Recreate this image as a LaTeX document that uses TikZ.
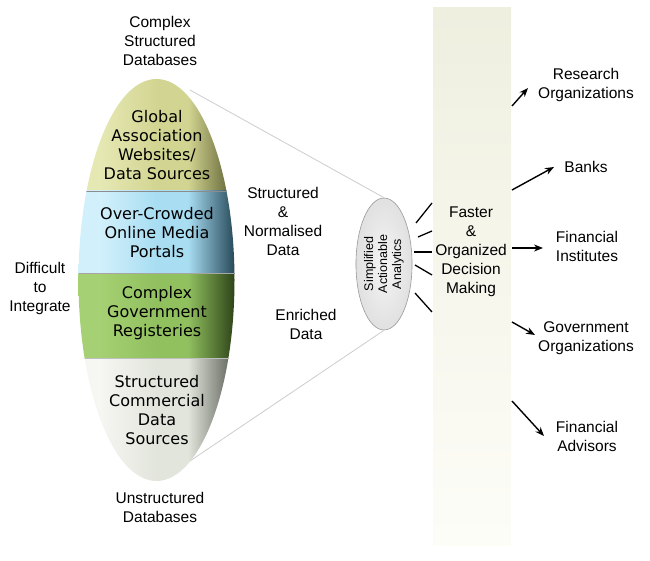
\documentclass[tikz,border=0pt]{standalone}
\usepackage{fontspec}
\setmainfont{Liberation Sans}
\newfontfamily\bandfont{DejaVu Sans}
\usetikzlibrary{arrows.meta,shapes.geometric}
\definecolor{yelL}{RGB}{230,232,180}
\definecolor{yelM}{RGB}{210,213,145}
\definecolor{yelD}{RGB}{90,92,48}
\definecolor{bluL}{RGB}{210,240,251}
\definecolor{bluM}{RGB}{168,221,242}
\definecolor{bluD}{RGB}{38,72,88}
\definecolor{grnL}{RGB}{165,208,115}
\definecolor{grnM}{RGB}{145,192,95}
\definecolor{grnD}{RGB}{45,66,25}
\definecolor{whtL}{RGB}{246,246,242}
\definecolor{whtM}{RGB}{226,229,220}
\definecolor{whtD}{RGB}{88,94,84}
\definecolor{barTop}{RGB}{239,239,224}
\definecolor{barBot}{RGB}{253,253,248}
\pgfdeclarehorizontalshading{yelshade}{100bp}{color(0bp)=(yelL); color(32bp)=(yelL); color(50bp)=(yelM); color(60bp)=(yelM); color(75bp)=(yelD); color(100bp)=(yelD)}
\pgfdeclarehorizontalshading{blushade}{100bp}{color(0bp)=(bluL); color(32bp)=(bluL); color(50bp)=(bluM); color(60bp)=(bluM); color(75bp)=(bluD); color(100bp)=(bluD)}
\pgfdeclarehorizontalshading{grnshade}{100bp}{color(0bp)=(grnL); color(32bp)=(grnL); color(50bp)=(grnM); color(60bp)=(grnM); color(75bp)=(grnD); color(100bp)=(grnD)}
\pgfdeclarehorizontalshading{whtshade}{100bp}{color(0bp)=(whtL); color(32bp)=(whtL); color(50bp)=(whtM); color(60bp)=(whtM); color(75bp)=(whtD); color(100bp)=(whtD)}
\tikzset{
  lbl/.style={align=center, inner sep=0pt, font=\fontsize{15.5}{19}\selectfont},
  bandlbl/.style={align=center, inner sep=0pt, font=\bandfont\fontsize{16}{19}\selectfont},
  conel/.style={draw=black!20, line width=0.8pt},
  tick/.style={line width=1.3pt},
  arr/.style={line width=1.4pt, -{Stealth[length=9pt,width=7pt]}}
}
\begin{document}
\begin{tikzpicture}[x=1pt,y=-1pt]
\useasboundingbox (0,0) rectangle (650,561);
% decision bar
\shade[top color=barTop, bottom color=barBot] (433,8) rectangle (511,545);
% cone
\node[ellipse, draw=black!40, line width=0.6pt, inner color=black!4, outer color=black!12, minimum width=132pt, minimum height=47pt, rotate=90, align=center, inner sep=0pt, font=\fontsize{12.5}{14}\selectfont] (ana) at (384,264) {Simplified\\Actionable\\Analytics};
\coordinate (ct) at (190,90);
\coordinate (cb) at (187,463);
\draw[conel] (ct) -- (ana.east);
\draw[conel] (cb) -- (ana.west);
% big ellipse, four bands
\begin{scope}
\clip (156.5,280) ellipse [x radius=78, y radius=201];
\shade[shading=yelshade] (78,70) rectangle (235,191);
\shade[shading=blushade] (78,191) rectangle (235,273);
\shade[shading=grnshade] (78,273) rectangle (235,358);
\shade[shading=whtshade] (78,358) rectangle (235,490);
\draw[black!45, line width=0.5pt] (78,191) -- (235,191);
\draw[black!35, line width=0.5pt] (78,273) -- (235,273);
\draw[black!25, line width=0.5pt] (78,358) -- (235,358);
\end{scope}
\node[bandlbl] (glob) at (157,145.5) {Global\\Association\\Websites/\\Data Sources};
\node[bandlbl] (crowd) at (157,233) {Over-Crowded\\Online Media\\Portals};
\node[bandlbl] (govreg) at (157,313.5) {Complex\\Government\\Registeries};
\node[bandlbl] (comm) at (157,410) {Structured\\Commercial\\Data\\Sources};
% labels
\node[lbl] (cplx) at (160,41) {Complex\\Structured\\Databases};
\node[lbl] (unstr) at (160,507.5) {Unstructured\\Databases};
\node[lbl] (diff) at (40,288) {Difficult\\to\\Integrate};
\node[lbl] (struct) at (283,221.5) {Structured\\\&\\Normalised\\Data};
\node[lbl] (enrich) at (306,324.5) {Enriched\\Data};
\node[lbl] (faster) at (471,252) {Faster\\\&\\Organized\\Decision\\Making};
\node[lbl] (res) at (586,84.5) {Research\\Organizations};
\node[lbl] (banks) at (586,167) {Banks};
\node[lbl] (fininst) at (587,246) {Financial\\Institutes};
\node[lbl] (govorg) at (586,338.5) {Government\\Organizations};
\node[lbl] (finadv) at (587,436.5) {Financial\\Advisors};
% analytics to bar
\coordinate (s1) at (416,223); \coordinate (e1) at (432,203);
\coordinate (s2) at (418,237); \coordinate (e2) at (432,231);
\coordinate (s3) at (414,252); \coordinate (e3) at (432,252);
\coordinate (s4) at (415,265); \coordinate (e4) at (432,275);
\coordinate (s5) at (415,293); \coordinate (e5) at (432,312);
\draw[tick] (s1) -- (e1);
\draw[tick] (s2) -- (e2);
\draw[tick] (s3) -- (e3);
\draw[tick] (s4) -- (e4);
\draw[tick] (s5) -- (e5);
% bar to users
\coordinate (a1) at (512,106); \coordinate (b1) at (528,88);
\coordinate (a2) at (512,190); \coordinate (b2) at (554,167);
\coordinate (a3) at (512,248); \coordinate (b3) at (543,248);
\coordinate (a4) at (512,322); \coordinate (b4) at (535,335);
\coordinate (a5) at (512,401); \coordinate (b5) at (544,436);
\draw[arr] (a1) -- (b1);
\draw[arr] (a2) -- (b2);
\draw[arr] (a3) -- (b3);
\draw[arr] (a4) -- (b4);
\draw[arr] (a5) -- (b5);
\end{tikzpicture}
\end{document}
